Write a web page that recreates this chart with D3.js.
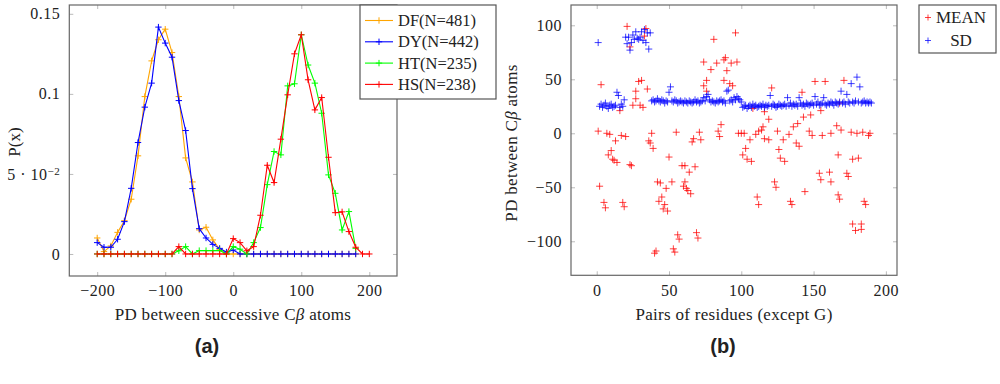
<!DOCTYPE html>
<html>
<head>
<meta charset="utf-8">
<script src="https://cdn.jsdelivr.net/npm/d3@7"></script>
<style>
body { margin:0; background:#fff; }
svg text { font-family: "Liberation Serif", serif; fill:#222; }
.tick line { stroke:#bbb; }
.domain { display:none; }
</style>
</head>
<body>
<svg id="chart" width="1000" height="384"></svg>
<script>
// ---- data (a): probability of PD between successive C-beta atoms
var pdX = [-200,-190,-180,-170,-160,-150,-140,-130,-120,-110,-100,-90,-80,-70,-60,-50,-40,-30,-20,-10,
           0,10,20,30,40,50,60,70,80,90,100,110,120,130,140,150,160,170,180,190,200];
var dfP = [0.010,0.0015,0.005,0.0135,0.0208,0.0342,0.0613,0.0983,0.1206,0.1338,0.1404,0.1258,0.0983,0.060,0.045,0.015,0.0167,0.0088,0.0029,0,
           0,0,0,0,0,0,0,0,0,0,0,0,0,0,0,0,0,0,0,null,null];
var dyP = [0.0071,0.0042,0.0042,0.0092,0.0202,0.041,0.0696,0.0917,0.1067,0.1417,0.1317,0.1229,0.0958,0.0771,0.0408,0.0158,0.010,0.006,0.0035,0.0012,
           0.0025,0,0,0,0,0,0,0,0,0,0,0,0,0,0,0,0,0,0,null,null];
var htP = [0,0,0,0,0,0,0,0,0,0,0,0,0.002,0.0046,0,0.0021,0.0021,0.0021,0.0021,0,
           0.0046,0.003,0,0.0071,0.0165,0.0433,0.064,0.0619,0.105,0.1063,0.1369,0.118,0.1067,0.0879,0.0494,0.0379,0.015,0.0265,0.0035,null,null];
var hsP = [0,0,0,0,0,0,0,0,0,0,0,0,0.0046,0,0,0,0,0,0,0,
           0.0096,0.0071,0.002,0.0046,0.0242,0.0554,0.0446,0.0717,0.0994,0.125,0.1369,0.1088,0.09,0.0977,0.0604,0.0258,0.0263,0.014,0.0042,0,0];
var seriesNames = ["DF(N=481)","DY(N=442)","HT(N=235)","HS(N=238)"];
var seriesColors = ["#ffa500","#0000ff","#00ff00","#ff0000"];
var yTicksA = ["0", "5 \u00b7 10", "0.1", "0.15"];

// ---- data (b): MEAN and SD per pair of residues
var meanX = [21,34,23,33,3,29,31,27,35,27,25,30,32,16,81,96,74,83,88,89,93,97,79,90,76,88,74,92,94,76,
  1,7,9,13,17,20,38,55,36,37,39,10,8,11,12,14,23,24,50,59,61,64,68,66,67,71,72,84,86,85,98,100,102,103,101,104,
  2,5,6,18,19,42,44,52,48,45,43,47,46,49,61,60,62,63,65,56,57,69,70,53,54,40,41,
  121,151,158,171,142,108,116,119,143,148,155,168,
  110,112,114,115,106,116,119,125,129,133,136,139,138,140,147,149,156,162,166,169,176,180,184,188,189,
  107,126,127,130,167,177,181,154,155,161,162,173,174,123,124,144,111,112,134,135,167,168,185,186,177,183,179,183];
var meanY = [99,97,80,90,45,48,49,39,41,32,26,26,24,21,87,93,66,65,68,70,65,66,59,58,49,49,44,46,44,39,
  2,0,-1,-7,-2,-3,0,1,-7,-9,-14,-16,-20,-24,-25,-27,-29,-30,-22,-30,-30,-36,-31,-8,-5,1,-6,2,8,-3,0,0,0,-14,-20,-24,
  -49,-64,-69,-64,-68,-45,-46,-45,-51,-59,-63,-66,-70,-72,-45,-49,-51,-53,-56,-94,-98,-92,-97,-107,-110,-111,-109,
  42,48,48,49,38,23,20,13,15,17,21,28,
  -1,2,3,6,-6,-5,-6,2,-6,-1,6,9,-9,-12,2,-2,-2,0,7,3,1,0,1,-2,0,
  -26,-15,-23,-26,-20,-24,-23,-37,-43,-36,-45,-37,-40,-45,-50,-54,-59,-66,-63,-66,-57,-61,-63,-66,-84,-84,-90,-89];
var sdY = [84,
  25,27,24,26,28,25,23,26,27,24,25,26,38,35,24,27,25,31,
  89,83,89,77,84,91,87,94,88,87,89,94,86,96,84,93,78,93,
  30,31,29,30,32,30,29,31,30,28,30,29,
  38,43,30,29,31,30,28,29,30,29,28,30,
  29,28,30,29,28,29,31,29,30,28,29,30,
  33,30,34,36,31,29,30,29,28,30,29,30,
  31,29,30,28,39,40,30,31,29,33,31,34,32,31,29,
  24,25,26,23,25,26,24,27,25,26,24,25,
  26,25,27,24,26,25,26,35,25,27,26,24,
  25,27,26,25,26,27,25,33,26,28,25,27,
  26,27,25,33,28,26,27,25,28,27,26,27,
  28,26,34,27,29,26,27,28,33,27,26,28,
  27,29,28,26,29,28,27,29,39,28,29,27,
  36,29,28,46,29,28,30,52,29,43,28,29,
  30,28,29,28,29,28];

var svg = d3.select("#chart");

function plus(cx, cy, r) {
  return "M" + (cx - r) + "," + cy + "H" + (cx + r) + "M" + cx + "," + (cy - r) + "V" + (cy + r);
}

function frame(g, x, y, xt, yt) {
  var x0 = x.range()[0], x1 = x.range()[1], y0 = y.range()[0], y1 = y.range()[1];
  g.append("g").attr("transform", "translate(0," + y0 + ")")
    .call(d3.axisBottom(x).tickValues(xt).tickSize(-4).tickPadding(9).tickFormat(d3.format("d")));
  g.append("g").attr("transform", "translate(0," + y1 + ")")
    .call(d3.axisTop(x).tickValues(xt).tickSize(-4).tickFormat(""));
  var ya = g.append("g").attr("transform", "translate(" + x0 + ",0)")
    .call(d3.axisLeft(y).tickValues(yt).tickSize(-4).tickPadding(9));
  g.append("g").attr("transform", "translate(" + x1 + ",0)")
    .call(d3.axisRight(y).tickValues(yt).tickSize(-4).tickFormat(""));
  g.append("rect").attr("x", x0).attr("y", y1).attr("width", x1 - x0).attr("height", y0 - y1)
    .attr("fill", "none").attr("stroke", "#666").attr("stroke-width", 1.2);
  g.selectAll(".tick text").style("font-size", "16px").style("letter-spacing", "0.5px")
    .text(function () { return d3.select(this).text().replace("-", "\u2212"); });
  return ya;
}

// ---------- (a)
var xa = d3.scaleLinear().domain([-241, 240.7]).range([69.3, 397]);
var ya = d3.scaleLinear().domain([-0.01375, 0.1555]).range([276, 5]);
var ga = svg.append("g");
var yAxA = frame(ga, xa, ya, [-200,-100,0,100,200], [0,0.05,0.1,0.15]);
yAxA.selectAll(".tick text").each(function (d, i) {
  var t = d3.select(this).text(yTicksA[i]);
  if (i === 1) t.append("tspan").attr("dy", "-0.45em").style("font-size", "11px").text("\u22122");
});

[dfP, dyP, htP, hsP].forEach(function (vals, k) {
  var pts = pdX.map(function (v, i) { return [v, vals[i]]; }).filter(function (p) { return p[1] !== null; });
  ga.append("path")
    .attr("d", d3.line().x(function (p) { return xa(p[0]); }).y(function (p) { return ya(p[1]); })(pts))
    .attr("fill", "none").attr("stroke", seriesColors[k]).attr("stroke-width", 1.1);
  ga.append("path")
    .attr("d", pts.map(function (p) { return plus(xa(p[0]), ya(p[1]), 3.2); }).join(""))
    .attr("stroke", seriesColors[k]).attr("stroke-width", 1).attr("fill", "none");
});

var xl = ga.append("text").attr("x", 233).attr("y", 320).attr("text-anchor", "middle")
  .style("font-size", "17px").style("letter-spacing", "0.3px").text("PD between successive C");
xl.append("tspan").style("font-style", "italic").text("\u03b2");
xl.append("tspan").text(" atoms");
ga.append("text").attr("transform", "translate(20,142) rotate(-90)").attr("text-anchor", "middle")
  .style("font-size", "17px").text("P(x)");

var lg = ga.append("g");
lg.append("rect").attr("x", 360).attr("y", 5).attr("width", 136).attr("height", 94)
  .attr("fill", "#fff").attr("stroke", "#555").attr("stroke-width", 1.2);
seriesNames.forEach(function (n, k) {
  var yy = 20.5 + k * 21.3;
  lg.append("line").attr("x1", 365).attr("x2", 393).attr("y1", yy).attr("y2", yy)
    .attr("stroke", seriesColors[k]).attr("stroke-width", 1.1);
  lg.append("path").attr("d", plus(379, yy, 3.2)).attr("stroke", seriesColors[k]);
  lg.append("text").attr("x", 398).attr("y", yy + 5.5).style("font-size", "16.5px").text(n);
});

svg.append("text").attr("x", 207).attr("y", 353).attr("text-anchor", "middle")
  .style("font-family", "Liberation Sans, Arial, sans-serif").style("font-weight", "bold")
  .style("font-size", "20px").text("(a)");

// ---------- (b)
var xb = d3.scaleLinear().domain([-17.8, 207.7]).range([571, 897]);
var yb = d3.scaleLinear().domain([-131.5, 118.8]).range([275.3, 5]);
var gb = svg.append("g");
frame(gb, xb, yb, [0,50,100,150,200], [-100,-50,0,50,100]);

gb.append("path")
  .attr("d", meanX.map(function (v, i) { return plus(xb(v), yb(meanY[i]), 3.5); }).join(""))
  .attr("stroke", "#ff0000").attr("stroke-opacity", 0.75).attr("fill", "none");
gb.append("path")
  .attr("d", sdY.map(function (v, i) { return plus(xb(i + 1), yb(v), 3.5); }).join(""))
  .attr("stroke", "#0000ff").attr("stroke-opacity", 0.75).attr("fill", "none");

gb.append("text").attr("x", 734).attr("y", 320).attr("text-anchor", "middle")
  .style("font-size", "17px").style("letter-spacing", "0.3px").text("Pairs of residues (except G)");
var yl = gb.append("text").attr("transform", "translate(517,143) rotate(-90)").attr("text-anchor", "middle")
  .style("font-size", "17px").style("letter-spacing", "0.3px").text("PD between C");
yl.append("tspan").style("font-style", "italic").text("\u03b2");
yl.append("tspan").text(" atoms");

var lb = gb.append("g");
lb.append("rect").attr("x", 919).attr("y", 5).attr("width", 77).attr("height", 48)
  .attr("fill", "#fff").attr("stroke", "#555").attr("stroke-width", 1.2);
[["MEAN", "#ff0000"], ["SD", "#0000ff"]].forEach(function (e, k) {
  var yy = 17.5 + k * 23;
  lb.append("path").attr("d", plus(928, yy, 3)).attr("stroke", e[1]).attr("stroke-opacity", 0.75);
  lb.append("text").attr("x", 961).attr("y", yy + 5.5).attr("text-anchor", "middle")
    .style("font-size", "17px").text(e[0]);
});

svg.append("text").attr("x", 723).attr("y", 353).attr("text-anchor", "middle")
  .style("font-family", "Liberation Sans, Arial, sans-serif").style("font-weight", "bold")
  .style("font-size", "20px").text("(b)");
</script>
</body>
</html>
